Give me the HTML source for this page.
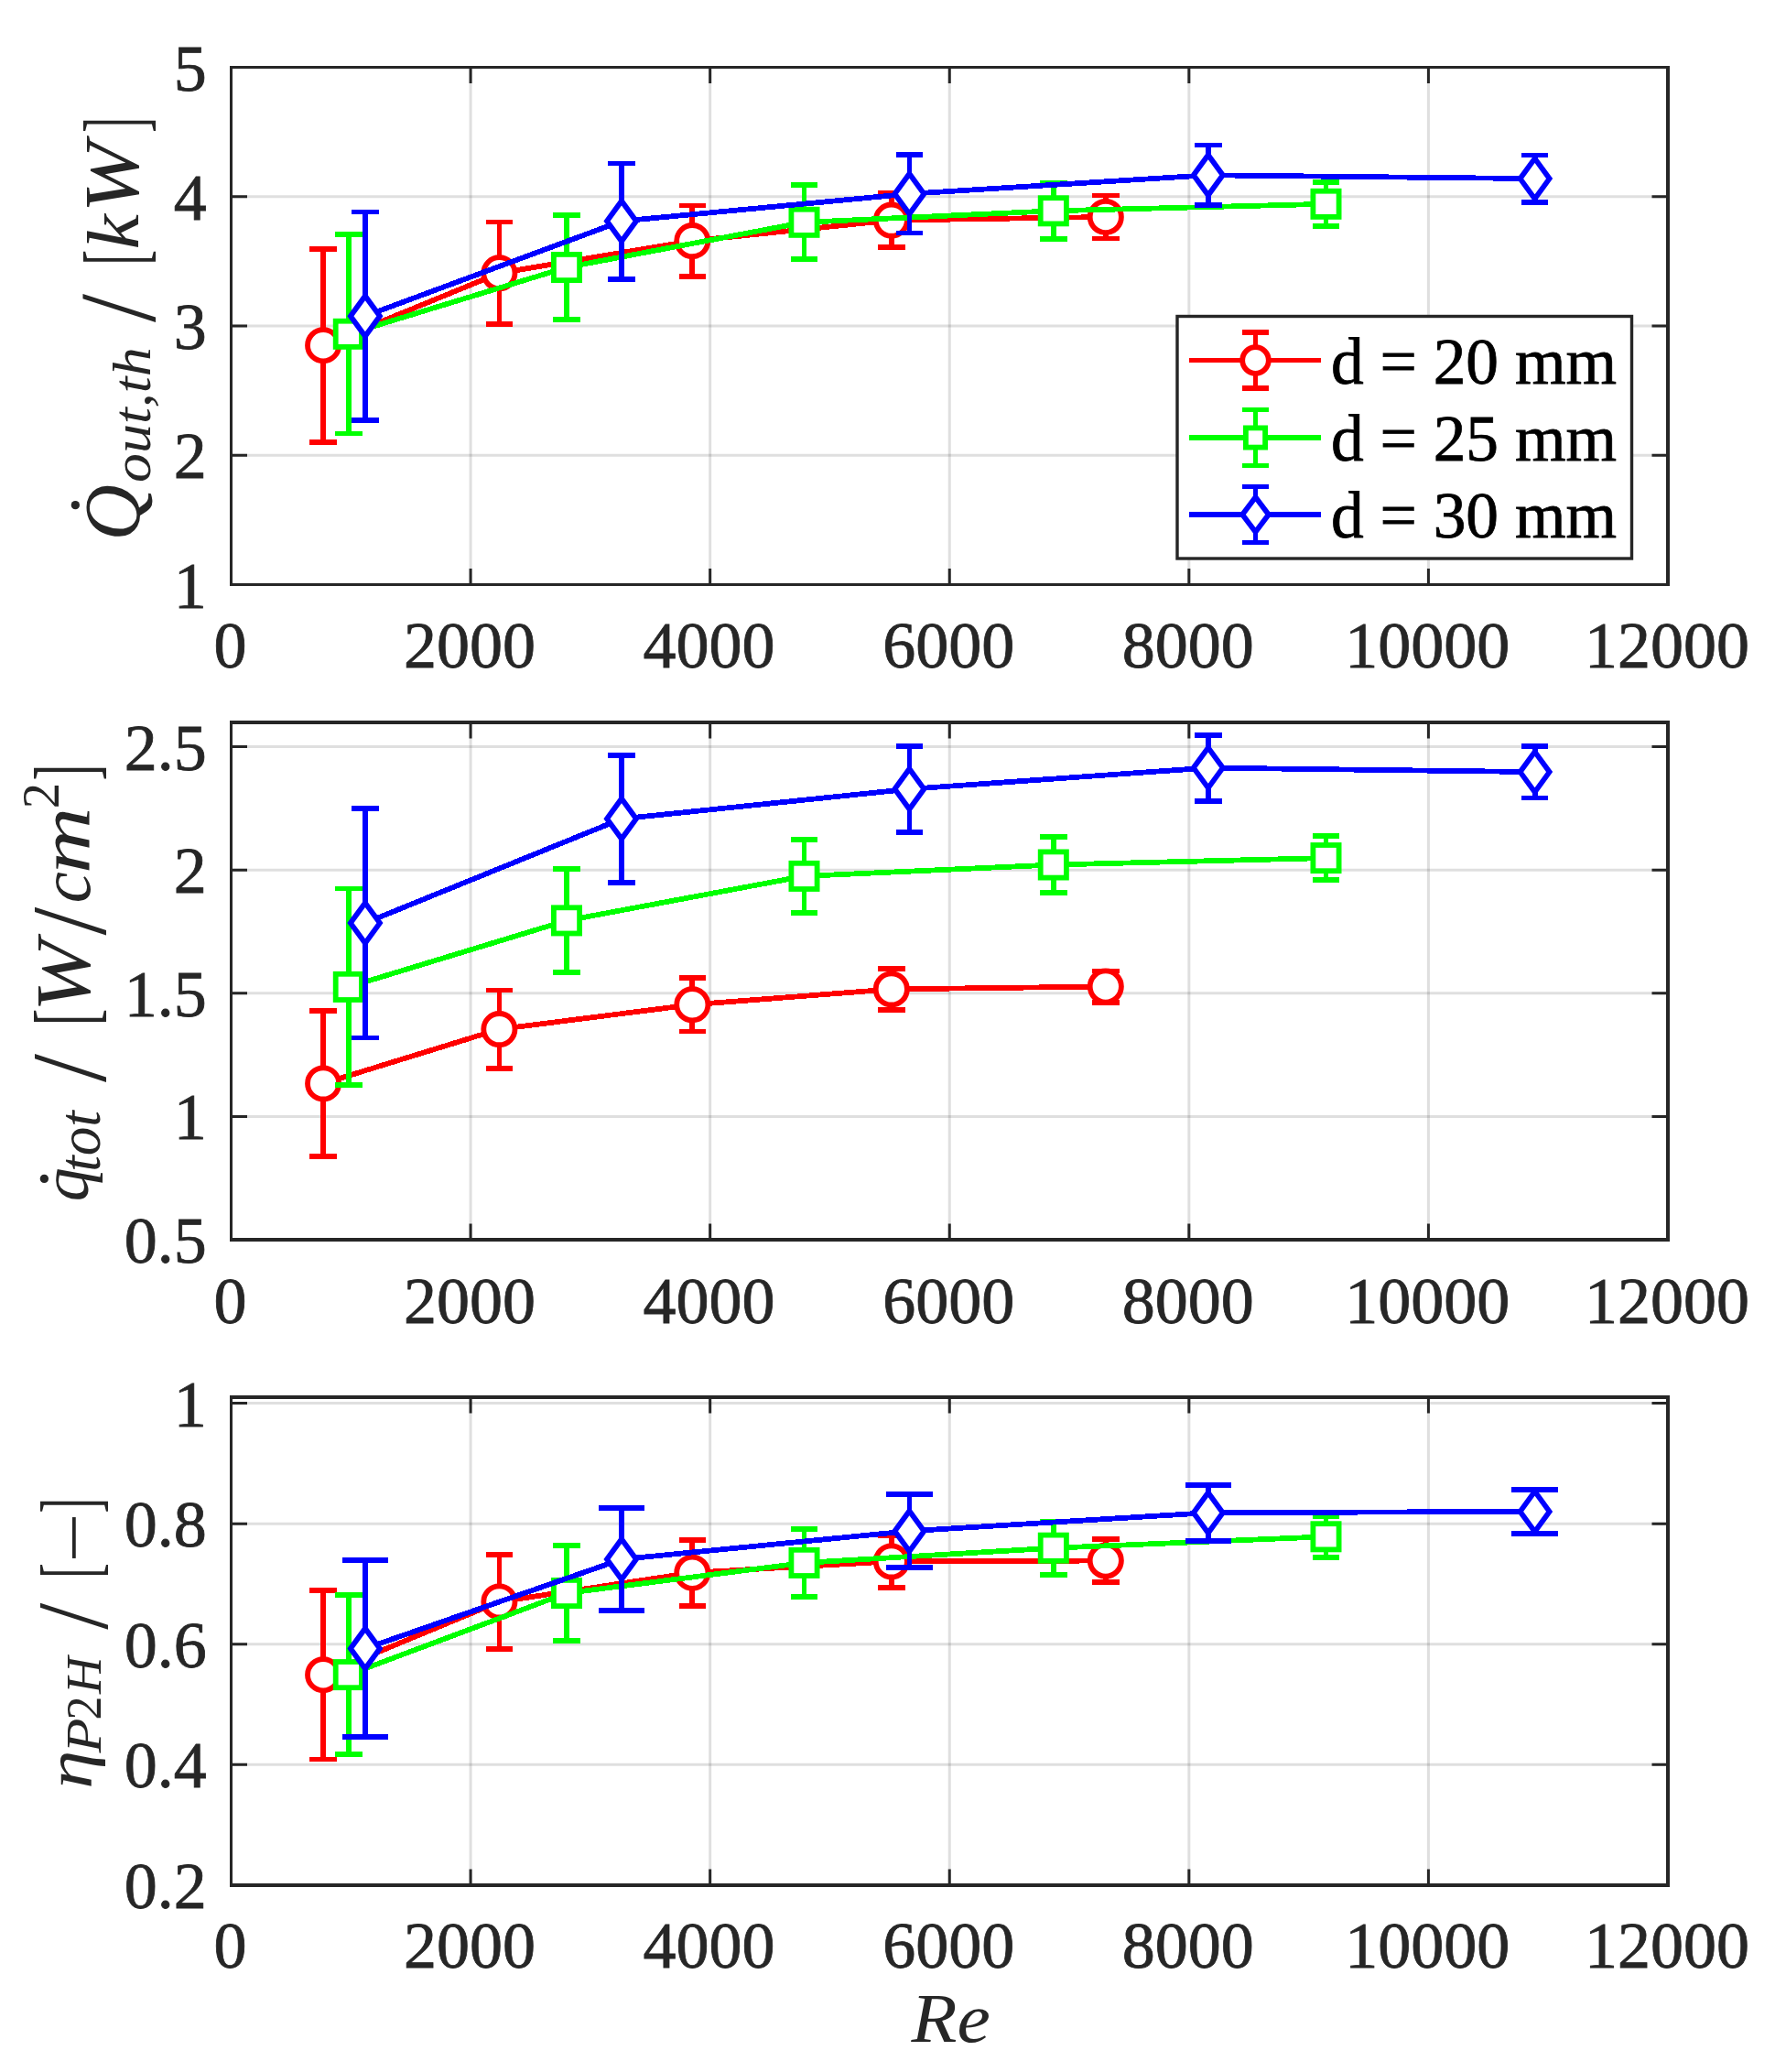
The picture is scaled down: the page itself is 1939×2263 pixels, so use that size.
<!DOCTYPE html>
<html lang="en"><head><meta charset="utf-8"><title>Heat output, heat flux and efficiency vs Re</title>
<style>html,body{margin:0;padding:0;background:#fff}svg{display:block}text{font-family:"Liberation Serif","DejaVu Serif",serif}</style></head><body>
<svg width="1939" height="2263" viewBox="0 0 1939 2263">
<rect width="1939" height="2263" fill="#fff"/>
<g id="axes1">
<path d="M514.08 73.5V638.5M775.67 73.5V638.5M1037.25 73.5V638.5M1298.83 73.5V638.5M1560.42 73.5V638.5" stroke="#262626" stroke-opacity="0.15" stroke-width="3" fill="none"/>
<path d="M252.5 497.25H1822.0M252.5 356.0H1822.0M252.5 214.75H1822.0" stroke="#262626" stroke-opacity="0.15" stroke-width="3" fill="none"/>
<path d="M514.08 638.5v-17.5M514.08 73.5v17.5M775.67 638.5v-17.5M775.67 73.5v17.5M1037.25 638.5v-17.5M1037.25 73.5v17.5M1298.83 638.5v-17.5M1298.83 73.5v17.5M1560.42 638.5v-17.5M1560.42 73.5v17.5M252.5 638.5h17.5M1822.0 638.5h-17.5M252.5 497.25h17.5M1822.0 497.25h-17.5M252.5 356.0h17.5M1822.0 356.0h-17.5M252.5 214.75h17.5M1822.0 214.75h-17.5M252.5 73.5h17.5M1822.0 73.5h-17.5" stroke="#262626" stroke-width="3" fill="none"/>
<path d="M252.5 72.0V640.0" stroke="#262626" stroke-width="3" fill="none"/>
<path d="M1822.0 72.0V640.0" stroke="#262626" stroke-width="4" fill="none"/>
<path d="M251.0 73.5H1824.0" stroke="#262626" stroke-width="3" fill="none"/>
<path d="M251.0 638.5H1824.0" stroke="#262626" stroke-width="3" fill="none"/>
<g stroke="#ff0000" stroke-width="5.8" fill="none" shape-rendering="crispEdges">
<path d="M353.1 271.6V482.8M338.3 271.6H367.9M338.3 482.8H367.9M545.4 242.5V354.1M530.6 242.5H560.2M530.6 354.1H560.2M756.3 224.5V301.7M741.5 224.5H771.1M741.5 301.7H771.1M973.8 211.1V270.1M959.0 211.1H988.6M959.0 270.1H988.6M1207.8 213.5V260.5M1193.0 213.5H1222.6M1193.0 260.5H1222.6"/>
<polyline points="353.1,377.2 545.4,298.3 756.3,263.1 973.8,240.6 1207.8,237.0"/>
</g>
<circle cx="353.1" cy="377.2" r="17.1" fill="#fff" stroke="#ff0000" stroke-width="5.8"/>
<circle cx="545.4" cy="298.3" r="17.1" fill="#fff" stroke="#ff0000" stroke-width="5.8"/>
<circle cx="756.3" cy="263.1" r="17.1" fill="#fff" stroke="#ff0000" stroke-width="5.8"/>
<circle cx="973.8" cy="240.6" r="17.1" fill="#fff" stroke="#ff0000" stroke-width="5.8"/>
<circle cx="1207.8" cy="237.0" r="17.1" fill="#fff" stroke="#ff0000" stroke-width="5.8"/>
<g stroke="#00ff00" stroke-width="5.8" fill="none" shape-rendering="crispEdges">
<path d="M380.8 256.1V473.5M366.0 256.1H395.6M366.0 473.5H395.6M619.0 235.0V349.0M604.2 235.0H633.8M604.2 349.0H633.8M878.5 202.3V283.3M863.7 202.3H893.3M863.7 283.3H893.3M1150.8 199.9V260.7M1136.0 199.9H1165.6M1136.0 260.7H1165.6M1448.5 198.6V247.0M1433.7 198.6H1463.3M1433.7 247.0H1463.3"/>
<polyline points="380.8,364.8 619.0,292.0 878.5,242.8 1150.8,230.3 1448.5,222.8"/>
</g>
<rect x="366.7" y="350.7" width="28.2" height="28.2" fill="#fff" stroke="#00ff00" stroke-width="5.8"/>
<rect x="604.9" y="277.9" width="28.2" height="28.2" fill="#fff" stroke="#00ff00" stroke-width="5.8"/>
<rect x="864.4" y="228.7" width="28.2" height="28.2" fill="#fff" stroke="#00ff00" stroke-width="5.8"/>
<rect x="1136.7" y="216.2" width="28.2" height="28.2" fill="#fff" stroke="#00ff00" stroke-width="5.8"/>
<rect x="1434.4" y="208.7" width="28.2" height="28.2" fill="#fff" stroke="#00ff00" stroke-width="5.8"/>
<g stroke="#0000ff" stroke-width="5.8" fill="none" shape-rendering="crispEdges">
<path d="M398.9 231.5V458.9M384.1 231.5H413.7M384.1 458.9H413.7M679.0 178.4V304.6M664.2 178.4H693.8M664.2 304.6H693.8M993.4 169.0V254.4M978.6 169.0H1008.2M978.6 254.4H1008.2M1319.8 158.5V224.1M1305.0 158.5H1334.6M1305.0 224.1H1334.6M1676.6 169.4V220.8M1661.8 169.4H1691.4M1661.8 220.8H1691.4"/>
<polyline points="398.9,345.2 679.0,241.5 993.4,211.7 1319.8,191.3 1676.6,195.1"/>
</g>
<path d="M398.9 323.2L414.9 345.2L398.9 367.2L382.9 345.2Z" fill="#fff" stroke="#0000ff" stroke-width="5.8" stroke-linejoin="miter"/>
<path d="M679.0 219.5L695.0 241.5L679.0 263.5L663.0 241.5Z" fill="#fff" stroke="#0000ff" stroke-width="5.8" stroke-linejoin="miter"/>
<path d="M993.4 189.7L1009.4 211.7L993.4 233.7L977.4 211.7Z" fill="#fff" stroke="#0000ff" stroke-width="5.8" stroke-linejoin="miter"/>
<path d="M1319.8 169.3L1335.8 191.3L1319.8 213.3L1303.8 191.3Z" fill="#fff" stroke="#0000ff" stroke-width="5.8" stroke-linejoin="miter"/>
<path d="M1676.6 173.1L1692.6 195.1L1676.6 217.1L1660.6 195.1Z" fill="#fff" stroke="#0000ff" stroke-width="5.8" stroke-linejoin="miter"/>
<g font-size="72.0" fill="#262626" stroke="#262626" stroke-width="0.8">
<text x="251.4" y="729.0" text-anchor="middle">0</text>
<text x="513.0" y="729.0" text-anchor="middle">2000</text>
<text x="774.6" y="729.0" text-anchor="middle">4000</text>
<text x="1036.2" y="729.0" text-anchor="middle">6000</text>
<text x="1297.7" y="729.0" text-anchor="middle">8000</text>
<text x="1559.3" y="729.0" text-anchor="middle">10000</text>
<text x="1820.9" y="729.0" text-anchor="middle">12000</text>
<text x="225.8" y="663.5" text-anchor="end">1</text>
<text x="225.8" y="522.2" text-anchor="end">2</text>
<text x="225.8" y="381.0" text-anchor="end">3</text>
<text x="225.8" y="239.8" text-anchor="end">4</text>
<text x="225.8" y="98.5" text-anchor="end">5</text>
</g>
</g>
<g id="axes2">
<path d="M514.08 789.0V1354.0M775.67 789.0V1354.0M1037.25 789.0V1354.0M1298.83 789.0V1354.0M1560.42 789.0V1354.0" stroke="#262626" stroke-opacity="0.15" stroke-width="3" fill="none"/>
<path d="M252.5 1219.4H1822.0M252.5 1084.8H1822.0M252.5 950.2H1822.0M252.5 815.5H1822.0" stroke="#262626" stroke-opacity="0.15" stroke-width="3" fill="none"/>
<path d="M514.08 1354.0v-17.5M514.08 789.0v17.5M775.67 1354.0v-17.5M775.67 789.0v17.5M1037.25 1354.0v-17.5M1037.25 789.0v17.5M1298.83 1354.0v-17.5M1298.83 789.0v17.5M1560.42 1354.0v-17.5M1560.42 789.0v17.5M252.5 1354.0h17.5M1822.0 1354.0h-17.5M252.5 1219.4h17.5M1822.0 1219.4h-17.5M252.5 1084.8h17.5M1822.0 1084.8h-17.5M252.5 950.2h17.5M1822.0 950.2h-17.5M252.5 815.5h17.5M1822.0 815.5h-17.5" stroke="#262626" stroke-width="3" fill="none"/>
<path d="M252.5 787.0V1356.0" stroke="#262626" stroke-width="3" fill="none"/>
<path d="M1822.0 787.0V1356.0" stroke="#262626" stroke-width="4" fill="none"/>
<path d="M251.0 789.0H1824.0" stroke="#262626" stroke-width="4" fill="none"/>
<path d="M251.0 1354.0H1824.0" stroke="#262626" stroke-width="4" fill="none"/>
<g stroke="#ff0000" stroke-width="5.8" fill="none" shape-rendering="crispEdges">
<path d="M353.1 1103.8V1263.0M338.3 1103.8H367.9M338.3 1263.0H367.9M545.4 1081.4V1166.8M530.6 1081.4H560.2M530.6 1166.8H560.2M756.3 1068.1V1126.5M741.5 1068.1H771.1M741.5 1126.5H771.1M973.8 1058.0V1102.8M959.0 1058.0H988.6M959.0 1102.8H988.6M1207.8 1060.4V1094.6M1193.0 1060.4H1222.6M1193.0 1094.6H1222.6"/>
<polyline points="353.1,1183.4 545.4,1124.1 756.3,1097.3 973.8,1080.4 1207.8,1077.5"/>
</g>
<circle cx="353.1" cy="1183.4" r="17.1" fill="#fff" stroke="#ff0000" stroke-width="5.8"/>
<circle cx="545.4" cy="1124.1" r="17.1" fill="#fff" stroke="#ff0000" stroke-width="5.8"/>
<circle cx="756.3" cy="1097.3" r="17.1" fill="#fff" stroke="#ff0000" stroke-width="5.8"/>
<circle cx="973.8" cy="1080.4" r="17.1" fill="#fff" stroke="#ff0000" stroke-width="5.8"/>
<circle cx="1207.8" cy="1077.5" r="17.1" fill="#fff" stroke="#ff0000" stroke-width="5.8"/>
<g stroke="#00ff00" stroke-width="5.8" fill="none" shape-rendering="crispEdges">
<path d="M380.8 970.5V1185.3M366.0 970.5H395.6M366.0 1185.3H395.6M619.0 948.9V1061.9M604.2 948.9H633.8M604.2 1061.9H633.8M878.5 916.9V996.9M863.7 916.9H893.3M863.7 996.9H893.3M1150.8 914.1V974.9M1136.0 914.1H1165.6M1136.0 974.9H1165.6M1448.5 913.1V961.1M1433.7 913.1H1463.3M1433.7 961.1H1463.3"/>
<polyline points="380.8,1077.9 619.0,1005.4 878.5,956.9 1150.8,944.5 1448.5,937.1"/>
</g>
<rect x="366.7" y="1063.8" width="28.2" height="28.2" fill="#fff" stroke="#00ff00" stroke-width="5.8"/>
<rect x="604.9" y="991.3" width="28.2" height="28.2" fill="#fff" stroke="#00ff00" stroke-width="5.8"/>
<rect x="864.4" y="942.8" width="28.2" height="28.2" fill="#fff" stroke="#00ff00" stroke-width="5.8"/>
<rect x="1136.7" y="930.4" width="28.2" height="28.2" fill="#fff" stroke="#00ff00" stroke-width="5.8"/>
<rect x="1434.4" y="923.0" width="28.2" height="28.2" fill="#fff" stroke="#00ff00" stroke-width="5.8"/>
<g stroke="#0000ff" stroke-width="5.8" fill="none" shape-rendering="crispEdges">
<path d="M398.9 882.7V1133.5M384.1 882.7H413.7M384.1 1133.5H413.7M679.0 824.7V963.9M664.2 824.7H693.8M664.2 963.9H693.8M993.4 814.9V908.7M978.6 814.9H1008.2M978.6 908.7H1008.2M1319.8 802.6V874.6M1305.0 802.6H1334.6M1305.0 874.6H1334.6M1676.6 814.8V871.4M1661.8 814.8H1691.4M1661.8 871.4H1691.4"/>
<polyline points="398.9,1008.1 679.0,894.3 993.4,861.8 1319.8,838.6 1676.6,843.1"/>
</g>
<path d="M398.9 986.1L414.9 1008.1L398.9 1030.1L382.9 1008.1Z" fill="#fff" stroke="#0000ff" stroke-width="5.8" stroke-linejoin="miter"/>
<path d="M679.0 872.3L695.0 894.3L679.0 916.3L663.0 894.3Z" fill="#fff" stroke="#0000ff" stroke-width="5.8" stroke-linejoin="miter"/>
<path d="M993.4 839.8L1009.4 861.8L993.4 883.8L977.4 861.8Z" fill="#fff" stroke="#0000ff" stroke-width="5.8" stroke-linejoin="miter"/>
<path d="M1319.8 816.6L1335.8 838.6L1319.8 860.6L1303.8 838.6Z" fill="#fff" stroke="#0000ff" stroke-width="5.8" stroke-linejoin="miter"/>
<path d="M1676.6 821.1L1692.6 843.1L1676.6 865.1L1660.6 843.1Z" fill="#fff" stroke="#0000ff" stroke-width="5.8" stroke-linejoin="miter"/>
<g font-size="72.0" fill="#262626" stroke="#262626" stroke-width="0.8">
<text x="251.4" y="1444.5" text-anchor="middle">0</text>
<text x="513.0" y="1444.5" text-anchor="middle">2000</text>
<text x="774.6" y="1444.5" text-anchor="middle">4000</text>
<text x="1036.2" y="1444.5" text-anchor="middle">6000</text>
<text x="1297.7" y="1444.5" text-anchor="middle">8000</text>
<text x="1559.3" y="1444.5" text-anchor="middle">10000</text>
<text x="1820.9" y="1444.5" text-anchor="middle">12000</text>
<text x="225.8" y="1379.0" text-anchor="end">0.5</text>
<text x="225.8" y="1244.4" text-anchor="end">1</text>
<text x="225.8" y="1109.8" text-anchor="end">1.5</text>
<text x="225.8" y="975.2" text-anchor="end">2</text>
<text x="225.8" y="840.5" text-anchor="end">2.5</text>
</g>
</g>
<g id="axes3">
<path d="M514.08 1526.0V2059.0M775.67 1526.0V2059.0M1037.25 1526.0V2059.0M1298.83 1526.0V2059.0M1560.42 1526.0V2059.0" stroke="#262626" stroke-opacity="0.15" stroke-width="3" fill="none"/>
<path d="M252.5 1927.3H1822.0M252.5 1795.7H1822.0M252.5 1664.2H1822.0M252.5 1532.5H1822.0" stroke="#262626" stroke-opacity="0.15" stroke-width="3" fill="none"/>
<path d="M514.08 2059.0v-17.5M514.08 1526.0v17.5M775.67 2059.0v-17.5M775.67 1526.0v17.5M1037.25 2059.0v-17.5M1037.25 1526.0v17.5M1298.83 2059.0v-17.5M1298.83 1526.0v17.5M1560.42 2059.0v-17.5M1560.42 1526.0v17.5M252.5 2059.0h17.5M1822.0 2059.0h-17.5M252.5 1927.3h17.5M1822.0 1927.3h-17.5M252.5 1795.7h17.5M1822.0 1795.7h-17.5M252.5 1664.2h17.5M1822.0 1664.2h-17.5M252.5 1532.5h17.5M1822.0 1532.5h-17.5" stroke="#262626" stroke-width="3" fill="none"/>
<path d="M252.5 1524.0V2061.0" stroke="#262626" stroke-width="3" fill="none"/>
<path d="M1822.0 1524.0V2061.0" stroke="#262626" stroke-width="4" fill="none"/>
<path d="M251.0 1526.0H1824.0" stroke="#262626" stroke-width="4" fill="none"/>
<path d="M251.0 2059.0H1824.0" stroke="#262626" stroke-width="4" fill="none"/>
<g stroke="#ff0000" stroke-width="5.8" fill="none" shape-rendering="crispEdges">
<path d="M353.1 1736.9V1921.5M338.3 1736.9H367.9M338.3 1921.5H367.9M545.4 1697.7V1801.1M530.6 1697.7H560.2M530.6 1801.1H560.2M756.3 1681.7V1753.7M741.5 1681.7H771.1M741.5 1753.7H771.1M973.8 1677.2V1733.6M959.0 1677.2H988.6M959.0 1733.6H988.6M1207.8 1681.1V1727.9M1193.0 1681.1H1222.6M1193.0 1727.9H1222.6"/>
<polyline points="353.1,1829.2 545.4,1749.4 756.3,1717.7 973.8,1705.4 1207.8,1704.5"/>
</g>
<circle cx="353.1" cy="1829.2" r="17.1" fill="#fff" stroke="#ff0000" stroke-width="5.8"/>
<circle cx="545.4" cy="1749.4" r="17.1" fill="#fff" stroke="#ff0000" stroke-width="5.8"/>
<circle cx="756.3" cy="1717.7" r="17.1" fill="#fff" stroke="#ff0000" stroke-width="5.8"/>
<circle cx="973.8" cy="1705.4" r="17.1" fill="#fff" stroke="#ff0000" stroke-width="5.8"/>
<circle cx="1207.8" cy="1704.5" r="17.1" fill="#fff" stroke="#ff0000" stroke-width="5.8"/>
<g stroke="#00ff00" stroke-width="5.8" fill="none" shape-rendering="crispEdges">
<path d="M380.8 1742.0V1916.2M366.0 1742.0H395.6M366.0 1916.2H395.6M619.0 1688.0V1792.0M604.2 1688.0H633.8M604.2 1792.0H633.8M878.5 1670.1V1743.7M863.7 1670.1H893.3M863.7 1743.7H893.3M1150.8 1661.4V1720.0M1136.0 1661.4H1165.6M1136.0 1720.0H1165.6M1448.5 1655.8V1700.8M1433.7 1655.8H1463.3M1433.7 1700.8H1463.3"/>
<polyline points="380.8,1829.1 619.0,1740.0 878.5,1706.9 1150.8,1690.7 1448.5,1678.3"/>
</g>
<rect x="366.7" y="1815.0" width="28.2" height="28.2" fill="#fff" stroke="#00ff00" stroke-width="5.8"/>
<rect x="604.9" y="1725.9" width="28.2" height="28.2" fill="#fff" stroke="#00ff00" stroke-width="5.8"/>
<rect x="864.4" y="1692.8" width="28.2" height="28.2" fill="#fff" stroke="#00ff00" stroke-width="5.8"/>
<rect x="1136.7" y="1676.6" width="28.2" height="28.2" fill="#fff" stroke="#00ff00" stroke-width="5.8"/>
<rect x="1434.4" y="1664.2" width="28.2" height="28.2" fill="#fff" stroke="#00ff00" stroke-width="5.8"/>
<g stroke="#0000ff" stroke-width="5.8" fill="none" shape-rendering="crispEdges">
<path d="M398.9 1704.0V1897.0M373.6 1704.0H424.2M373.6 1897.0H424.2M679.0 1646.9V1759.1M653.7 1646.9H704.3M653.7 1759.1H704.3M993.4 1632.3V1712.1M968.1 1632.3H1018.7M968.1 1712.1H1018.7M1319.8 1621.6V1682.8M1294.5 1621.6H1345.1M1294.5 1682.8H1345.1M1676.6 1626.9V1674.9M1651.3 1626.9H1701.9M1651.3 1674.9H1701.9"/>
<polyline points="398.9,1800.5 679.0,1703.0 993.4,1672.2 1319.8,1652.2 1676.6,1650.9"/>
</g>
<path d="M398.9 1778.5L414.9 1800.5L398.9 1822.5L382.9 1800.5Z" fill="#fff" stroke="#0000ff" stroke-width="5.8" stroke-linejoin="miter"/>
<path d="M679.0 1681.0L695.0 1703.0L679.0 1725.0L663.0 1703.0Z" fill="#fff" stroke="#0000ff" stroke-width="5.8" stroke-linejoin="miter"/>
<path d="M993.4 1650.2L1009.4 1672.2L993.4 1694.2L977.4 1672.2Z" fill="#fff" stroke="#0000ff" stroke-width="5.8" stroke-linejoin="miter"/>
<path d="M1319.8 1630.2L1335.8 1652.2L1319.8 1674.2L1303.8 1652.2Z" fill="#fff" stroke="#0000ff" stroke-width="5.8" stroke-linejoin="miter"/>
<path d="M1676.6 1628.9L1692.6 1650.9L1676.6 1672.9L1660.6 1650.9Z" fill="#fff" stroke="#0000ff" stroke-width="5.8" stroke-linejoin="miter"/>
<g font-size="72.0" fill="#262626" stroke="#262626" stroke-width="0.8">
<text x="251.4" y="2149.0" text-anchor="middle">0</text>
<text x="513.0" y="2149.0" text-anchor="middle">2000</text>
<text x="774.6" y="2149.0" text-anchor="middle">4000</text>
<text x="1036.2" y="2149.0" text-anchor="middle">6000</text>
<text x="1297.7" y="2149.0" text-anchor="middle">8000</text>
<text x="1559.3" y="2149.0" text-anchor="middle">10000</text>
<text x="1820.9" y="2149.0" text-anchor="middle">12000</text>
<text x="225.8" y="2084.0" text-anchor="end">0.2</text>
<text x="225.8" y="1952.3" text-anchor="end">0.4</text>
<text x="225.8" y="1820.7" text-anchor="end">0.6</text>
<text x="225.8" y="1689.2" text-anchor="end">0.8</text>
<text x="225.8" y="1557.5" text-anchor="end">1</text>
</g>
</g>
<g id="legend">
<rect x="1286" y="345.5" width="496.5" height="264.5" fill="#fff" stroke="#262626" stroke-width="3.4"/>
<path d="M1299 393.5H1443M1371.5 363.0V424.0M1357 363.0H1386M1357 424.0H1386" stroke="#ff0000" stroke-width="5.8" fill="none" shape-rendering="crispEdges"/>
<circle cx="1371.5" cy="393.5" r="14.3" fill="#fff" stroke="#ff0000" stroke-width="5.8"/>
<text x="1454" y="418.7" font-size="71.4" fill="#000" stroke="#000" stroke-width="0.8">d = 20 mm</text>
<path d="M1299 478.0H1443M1371.5 447.5V508.5M1357 447.5H1386M1357 508.5H1386" stroke="#00ff00" stroke-width="5.8" fill="none" shape-rendering="crispEdges"/>
<rect x="1360.9" y="467.4" width="21.2" height="21.2" fill="#fff" stroke="#00ff00" stroke-width="5.8"/>
<text x="1454" y="503.2" font-size="71.4" fill="#000" stroke="#000" stroke-width="0.8">d = 25 mm</text>
<path d="M1299 562.0H1443M1371.5 531.5V592.5M1357 531.5H1386M1357 592.5H1386" stroke="#0000ff" stroke-width="5.8" fill="none" shape-rendering="crispEdges"/>
<path d="M1371.5 543.1L1385.8 562.0L1371.5 580.9L1357.2 562.0Z" fill="#fff" stroke="#0000ff" stroke-width="5.8" stroke-linejoin="miter"/>
<text x="1454" y="587.2" font-size="71.4" fill="#000" stroke="#000" stroke-width="0.8">d = 30 mm</text>
</g>
<g id="labels">
<text transform="translate(151.98,590.48) rotate(-90) scale(0.9805,1)" font-size="86.51" font-style="italic" fill="#262626">Q</text>
<text transform="translate(85.69,561.49) rotate(-90) scale(1.0000,1)" font-size="78.70" fill="#262626">.</text>
<text transform="translate(163.75,526.91) rotate(-90) scale(1.0764,1)" font-size="59.46" font-style="italic" fill="#262626">out,th</text>
<text transform="translate(168.94,352.00) rotate(-90) scale(0.9443,1)" font-size="118.54" fill="#262626">/</text>
<text transform="translate(157.30,289.60) rotate(-90) scale(0.5210,1)" font-size="95.69" fill="#262626">[</text>
<text transform="translate(151.20,272.59) rotate(-90) scale(1.0862,1)" font-size="79.70" font-style="italic" fill="#262626">k</text>
<text transform="translate(150.83,232.32) rotate(-90) scale(1.1061,1)" font-size="83.89" font-style="italic" fill="#262626">W</text>
<text transform="translate(157.30,144.83) rotate(-90) scale(0.5303,1)" font-size="95.69" fill="#262626">]</text>
<text transform="translate(96.03,1312.26) rotate(-90) scale(0.9923,1)" font-size="74.55" font-style="italic" fill="#262626">q</text>
<text transform="translate(51.89,1297.29) rotate(-90) scale(1.0000,1)" font-size="78.70" fill="#262626">.</text>
<text transform="translate(108.56,1279.78) rotate(-90) scale(0.9704,1)" font-size="65.12" font-style="italic" fill="#262626">tot</text>
<text transform="translate(114.86,1181.90) rotate(-90) scale(0.9557,1)" font-size="116.75" fill="#262626">/</text>
<text transform="translate(103.37,1119.93) rotate(-90) scale(0.5759,1)" font-size="94.37" fill="#262626">[</text>
<text transform="translate(97.83,1104.99) rotate(-90) scale(1.1202,1)" font-size="83.89" font-style="italic" fill="#262626">W</text>
<text transform="translate(114.86,1021.50) rotate(-90) scale(0.9495,1)" font-size="116.75" fill="#262626">/</text>
<text transform="translate(97.84,986.26) rotate(-90) scale(0.9824,1)" font-size="78.18" font-style="italic" fill="#262626">c</text>
<text transform="translate(98.00,954.24) rotate(-90) scale(1.2813,1)" font-size="78.52" font-style="italic" fill="#262626">m</text>
<text transform="translate(64.10,883.30) rotate(-90) scale(0.9832,1)" font-size="57.85" fill="#262626">2</text>
<text transform="translate(103.37,852.61) rotate(-90) scale(0.5616,1)" font-size="94.37" fill="#262626">]</text>
<text transform="translate(99.59,1953.83) rotate(-90) scale(1.1920,1)" font-size="71.29" font-style="italic" fill="#262626">η</text>
<text transform="translate(110.00,1914.57) rotate(-90) scale(1.1331,1)" font-size="54.52" font-style="italic" fill="#262626">P</text>
<text transform="translate(110.00,1878.38) rotate(-90) scale(0.9623,1)" font-size="53.92" fill="#262626">2</text>
<text transform="translate(110.00,1850.00) rotate(-90) scale(1.0304,1)" font-size="54.52" font-style="italic" fill="#262626">H</text>
<text transform="translate(116.53,1779.80) rotate(-90) scale(0.9487,1)" font-size="110.02" fill="#262626">/</text>
<text transform="translate(106.04,1723.50) rotate(-90) scale(0.5425,1)" font-size="89.41" fill="#262626">[</text>
<text transform="translate(106.23,1706.71) rotate(-90) scale(1.2646,1)" font-size="76.30" fill="#262626">−</text>
<text transform="translate(106.04,1652.47) rotate(-90) scale(0.5475,1)" font-size="89.41" fill="#262626">]</text>
<text transform="translate(995.44,2229.66) scale(1.0768,1)" font-size="75.99" font-style="italic" fill="#262626">Re</text>
</g>
</svg></body></html>
